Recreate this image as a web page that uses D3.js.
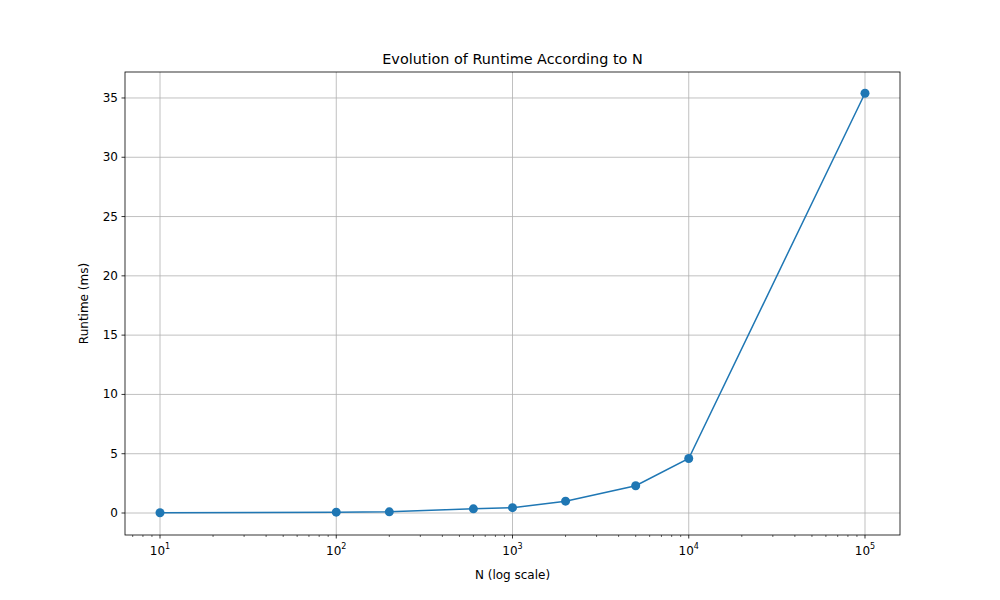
<!DOCTYPE html>
<html><head><meta charset="utf-8">
<script src="https://cdn.jsdelivr.net/npm/d3@7"></script>
<style>body{margin:0;background:#fff}text{font-family:"DejaVu Sans",sans-serif}</style>
</head><body><svg id="c" width="1000" height="600"></svg>
<script>
const nValues=[10,100,200,600,1000,2000,5000,10000,100000];
const runtimes=[0.02,0.07,0.1,0.35,0.45,1.0,2.3,4.6,35.4];
const yTicks=[0,5,10,15,20,25,30,35];
const xTicks=[10,100,1000,10000,100000];
const supers=["1","2","3","4","5"];

const svg=d3.select("#c");
const L=125,R=900,T=72,B=535;
const x=d3.scaleLog().domain([Math.pow(10,0.8014),Math.pow(10,5.1986)]).range([L,R]);
const y=d3.scaleLinear().domain([-1.855,37.19]).range([B,T]);

const g=svg.append("g");
// grid
g.selectAll(".gx").data(xTicks).join("line").attr("x1",d=>x(d)).attr("x2",d=>x(d)).attr("y1",T).attr("y2",B).attr("stroke","#b0b0b0").attr("stroke-width",0.8);
g.selectAll(".gy").data(yTicks).join("line").attr("y1",d=>y(d)).attr("y2",d=>y(d)).attr("x1",L).attr("x2",R).attr("stroke","#b0b0b0").attr("stroke-width",0.8);

// minor ticks
const minors=[];
for(let e=0;e<=5;e++)for(let m=2;m<=9;m++){const v=m*Math.pow(10,e);if(x(v)>=L&&x(v)<=R)minors.push(v);}
g.selectAll(".mt").data(minors).join("line").attr("x1",d=>x(d)).attr("x2",d=>x(d)).attr("y1",B).attr("y2",B+2).attr("stroke","#000").attr("stroke-width",0.6);
// major ticks
g.selectAll(".xt").data(xTicks).join("line").attr("x1",d=>x(d)).attr("x2",d=>x(d)).attr("y1",B).attr("y2",B+3.5).attr("stroke","#000").attr("stroke-width",0.8);
const xl=g.selectAll(".xl").data(xTicks).join("text").attr("x",d=>x(d)).attr("y",B+20).attr("text-anchor","middle").attr("font-size",12);
xl.append("tspan").text("10");
xl.append("tspan").attr("font-size",8).attr("dy",-6).text((d,i)=>supers[i]);
g.selectAll(".yt").data(yTicks).join("line").attr("x1",L-3.5).attr("x2",L).attr("y1",d=>y(d)).attr("y2",d=>y(d)).attr("stroke","#000").attr("stroke-width",0.8);
g.selectAll(".yl").data(yTicks).join("text").attr("x",L-7).attr("y",d=>y(d)+4).attr("text-anchor","end").attr("font-size",12).text(d=>d);

// line + points
const line=d3.line().x((d,i)=>x(nValues[i])).y(d=>y(d));
g.append("path").datum(runtimes).attr("d",line).attr("fill","none").attr("stroke","#1f77b4").attr("stroke-width",1.5);
g.selectAll(".pt").data(runtimes).join("circle").attr("cx",(d,i)=>x(nValues[i])).attr("cy",d=>y(d)).attr("r",4.5).attr("fill","#1f77b4");

g.append("rect").attr("x",L).attr("y",T).attr("width",R-L).attr("height",B-T).attr("fill","none").attr("stroke","#000").attr("stroke-width",0.8);

svg.append("text").attr("x",(L+R)/2).attr("y",64).attr("text-anchor","middle").attr("font-size",14.4).text("Evolution of Runtime According to N");
svg.append("text").attr("x",(L+R)/2).attr("y",579).attr("text-anchor","middle").attr("font-size",12).text("N (log scale)");
svg.append("text").attr("transform",`translate(88,${(T+B)/2}) rotate(-90)`).attr("text-anchor","middle").attr("font-size",12).text("Runtime (ms)");
</script></body></html>
